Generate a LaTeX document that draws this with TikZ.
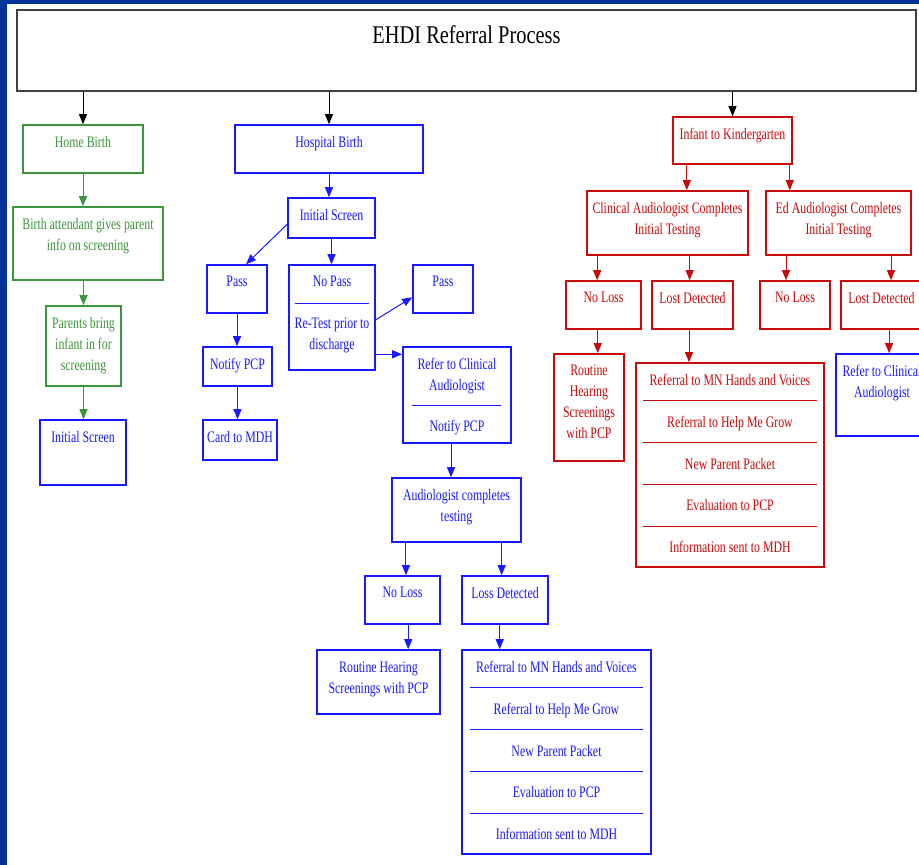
\documentclass[tikz,border=0pt]{standalone}
\usepackage{fontspec}
\setmainfont{Liberation Serif}[FakeStretch=0.74]
\newfontfamily\headfont{Liberation Serif}[FakeStretch=0.8]
\usetikzlibrary{calc,arrows.meta}
\usepackage{xcolor}
\definecolor{slideblue}{RGB}{0,51,153}
\definecolor{hgreen}{RGB}{60,150,60}
\definecolor{hblue}{RGB}{25,25,255}
\definecolor{hred}{RGB}{200,10,10}

\tikzset{
  box/.style 2 args={draw, line width=1.6pt, minimum width=#1, minimum height=#2, inner sep=0pt},
  intext/.style={anchor=north, inner sep=0pt, yshift=-12pt, align=center, font=\fontsize{16}{21}\selectfont},
  green box/.style={draw=hgreen, label={[intext, text=hgreen]north:#1}},
  blue box/.style={draw=hblue, label={[intext, text=hblue]north:#1}},
  red box/.style={draw=hred, label={[intext, text=hred]north:#1}},
  arr/.style={line width=1pt, -{Triangle[length=10pt, width=8pt]}},
}

\begin{document}
\begin{tikzpicture}[x=1pt, y=-1pt]

  \useasboundingbox (0,0) rectangle (919,865);
  \clip (0,0) rectangle (919,865);

  % slide background
  \fill[slideblue] (0,0) rectangle (919,865);
  \fill[white] (7,4) rectangle (919,865);

  % title
  \node[box={899}{81}, draw=black!75, line width=1.3pt,
    label={[anchor=north, inner sep=0pt, yshift=-15.5pt, font=\headfont\fontsize{25.5}{30}\selectfont]north:EHDI Referral Process}]
    (title) at (466.5,50.5) {};

  % home birth
  \node[box={120}{48}, green box={Home Birth}] (home) at (83,149) {};
  \node[box={150}{73}, green box={Birth attendant gives parent\\info on screening}] (attend) at (88,243.5) {};
  \node[box={75}{80}, green box={Parents bring\\infant in for\\screening}] (bring) at (83.5,346) {};
  \node[box={86}{65}, blue box={Initial Screen}] (homescreen) at (83,452.5) {};

  % hospital birth
  \node[box={188}{48}, blue box={Hospital Birth}] (hosp) at (329,149) {};
  \node[box={87}{40}, blue box={Initial Screen}] (hospscreen) at (331.5,218) {};
  \node[box={60}{48}, blue box={Pass}] (pass) at (237,289) {};
  \node[box={86}{105}, blue box={No Pass}] (nopass) at (332,317.5) {};
  \node[box={60}{48}, blue box={Pass}] (retestpass) at (443,289) {};
  \node[box={69}{39}, blue box={Notify PCP}] (notify) at (237.5,366.5) {};
  \node[box={74}{40}, blue box={Card to MDH}] (card) at (240,440) {};
  \node[box={108}{96}, blue box={Refer to Clinical\\Audiologist}] (refer) at (457,395) {};
  \node[box={129}{64}, blue box={Audiologist completes\\testing}] (audtest) at (456.5,510) {};
  \node[box={75}{48}, blue box={No Loss}] (noloss) at (402.5,600) {};
  \node[box={86}{48}, blue box={Loss Detected}] (lossdet) at (505,600) {};
  \node[box={123}{64}, blue box={Routine Hearing\\Screenings with PCP}] (routine) at (378.5,682) {};
  \node[box={189}{204}, draw=hblue] (steps) at (556.5,752) {};

  % second halves of the split boxes
  \draw[hblue, line width=1.2pt] ($(nopass.north west)+(7,39)$) -- ($(nopass.north east)+(-7,39)$);
  \node[intext, text=hblue] (retest) at ($(nopass.north)+(0,42)$) {Re-Test prior to\\discharge};
  \draw[hblue, line width=1.2pt] ($(refer.north west)+(10,59)$) -- ($(refer.north east)+(-11,59)$);
  \node[intext, text=hblue] (refernotify) at ($(refer.north)+(0,62)$) {Notify PCP};

  % infant to kindergarten
  \node[box={119}{47}, red box={Infant to Kindergarten}] (kinder) at (732.5,140.5) {};
  \node[box={161}{64}, red box={Clinical Audiologist Completes\\Initial Testing}] (clinaud) at (667.5,223) {};
  \node[box={145}{64}, red box={Ed Audiologist Completes\\Initial Testing}] (edaud) at (838.5,223) {};
  \node[box={75}{48}, red box={No Loss}] (clinnoloss) at (603.5,305) {};
  \node[box={81}{48}, red box={Lost Detected}] (clinloss) at (692.5,305) {};
  \node[box={70}{48}, red box={No Loss}] (ednoloss) at (795,305) {};
  \node[box={81}{48}, red box={Lost Detected}] (edloss) at (881.5,305) {};
  \node[box={70}{107}, red box={Routine\\Hearing\\Screenings\\with PCP}] (clinroutine) at (589,407.5) {};
  \node[box={188}{204}, draw=hred] (clinsteps) at (730,465) {};
  \node[box={92}{82}, blue box={Refer to Clinical\\Audiologist}] (edrefer) at (882,395) {};

  % the two lists of next steps
  \foreach \entry [count=\i] in {Referral to MN Hands and Voices, Referral to Help Me Grow,
      New Parent Packet, Evaluation to PCP, Information sent to MDH} {
    \node[intext, text=hblue] (steps\i) at ($(steps.north)+(0,{41.75*(\i-1)})$) {\entry};
    \node[intext, text=hred] (clinsteps\i) at ($(clinsteps.north)+(0,{41.75*(\i-1)})$) {\entry};
  }
  \foreach \i in {1,...,4} {
    \draw[hblue, line width=1.2pt] ($(steps.north west)+(9,{38.5+42*(\i-1)})$) -- ($(steps.north east)+(-9,{38.5+42*(\i-1)})$);
    \draw[hred, line width=1.2pt] ($(clinsteps.north west)+(8,{38.5+42*(\i-1)})$) -- ($(clinsteps.north east)+(-8,{38.5+42*(\i-1)})$);
  }

  % arrows from the title
  \draw[arr] (title.south -| home.north) -- (home.north);
  \draw[arr] (title.south -| hosp.north) -- (hosp.north);
  \draw[arr] (title.south -| kinder.north) -- (kinder.north);

  % green arrows
  \draw[arr, hgreen] (home.south) -- (home.south |- attend.north);
  \draw[arr, hgreen] (bring.north |- attend.south) -- (bring.north);
  \draw[arr, hgreen] (bring.south) -- (bring.south |- homescreen.north);

  % blue arrows
  \draw[arr, hblue] (hosp.south) -- (hosp.south |- hospscreen.north);
  \draw[arr, hblue] (hospscreen.south) -- (hospscreen.south |- nopass.north);
  \draw[arr, hblue] (hospscreen.188) -- (pass.70);
  \draw[arr, hblue] (nopass.-3) -- (retestpass.195);
  \draw[arr, hblue] (nopass.-40) -- (nopass.-40 -| refer.west);
  \draw[arr, hblue] (pass.south) -- (pass.south |- notify.north);
  \draw[arr, hblue] (notify.south) -- (notify.south |- card.north);
  \draw[arr, hblue] (refer.263) -- (refer.263 |- audtest.north);
  \draw[arr, hblue] (audtest.213) -- (audtest.213 |- noloss.north);
  \draw[arr, hblue] (audtest.-36) -- (audtest.-36 |- lossdet.north);
  \draw[arr, hblue] (noloss.-77) -- (noloss.-77 |- routine.north);
  \draw[arr, hblue] (lossdet.258) -- (lossdet.258 |- steps.north);

  % red arrows
  \draw[arr, hred] (kinder.208) -- (kinder.208 |- clinaud.north);
  \draw[arr, hred] (kinder.-23) -- (kinder.-23 |- edaud.north);
  \draw[arr, hred] (clinaud.205) -- (clinaud.205 |- clinnoloss.north);
  \draw[arr, hred] (clinaud.-56) -- (clinaud.-56 |- clinloss.north);
  \draw[arr, hred] (edaud.212) -- (edaud.212 |- ednoloss.north);
  \draw[arr, hred] (edaud.-32) -- (edaud.-32 |- edloss.north);
  \draw[arr, hred] (clinnoloss.257) -- (clinnoloss.257 |- clinroutine.north);
  \draw[arr, hred] (clinloss.262) -- (clinloss.262 |- clinsteps.north);
  \draw[arr, hred] (edloss.-73) -- (edloss.-73 |- edrefer.north);

\end{tikzpicture}
\end{document}
